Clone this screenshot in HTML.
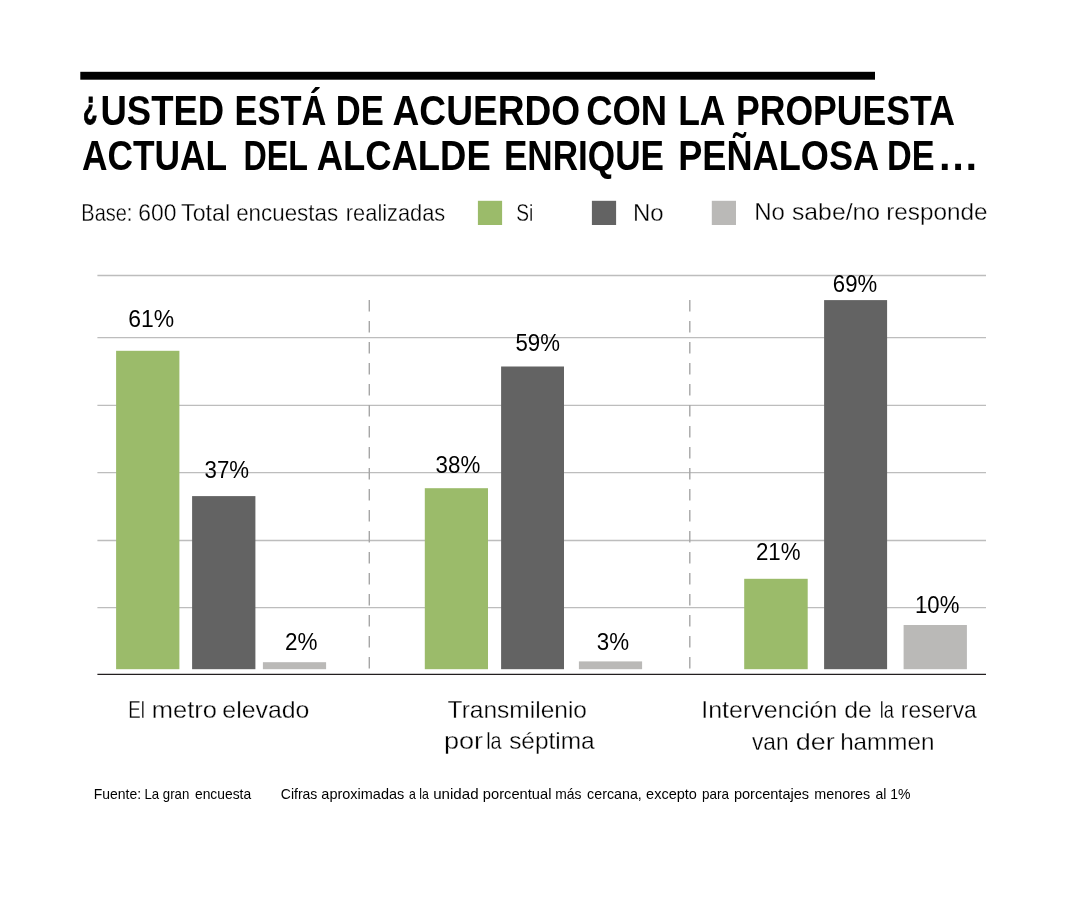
<!DOCTYPE html>
<html lang="es">
<head>
<meta charset="utf-8">
<title>¿Usted está de acuerdo con la propuesta actual del alcalde Enrique Peñalosa de…</title>
<style>
  html, body { margin: 0; padding: 0; background: #ffffff; }
  body { width: 1080px; height: 900px; overflow: hidden; }
  svg { display: block; }
  text { font-family: "Liberation Sans", sans-serif; fill: #000000; }
  .title { font-weight: bold; font-size: 41.7px; }
  .sub { font-size: 24px; stroke: #ffffff; stroke-width: 0.3px; }
  .val { font-size: 24px; }
  .cat { font-size: 24px; stroke: #ffffff; stroke-width: 0.3px; }
  .foot { font-size: 15px; }
  .grid { stroke: #bdbdbd; stroke-width: 1.3; }
  .dash { stroke: #a6a6a6; stroke-width: 1.4; stroke-dasharray: 11.5 9.5; }
  .si { fill: #9bbb6a; }
  .no { fill: #636363; }
  .ns { fill: #bab9b7; }
</style>
</head>
<body>
<svg width="1080" height="900" viewBox="0 0 1080 900">
  <rect x="0" y="0" width="1080" height="900" fill="#ffffff"/>

  <!-- top rule -->
  <rect x="80.3" y="71.8" width="794.7" height="7.9" fill="#000000"/>

  <!-- title -->
  <text class="title" y="124.8"><tspan x="82.94" dy="-7.2" font-size="38.5" stroke="#000000" stroke-width="1.2" textLength="14.44" lengthAdjust="spacingAndGlyphs">¿</tspan><tspan x="100.44" dy="7.2" textLength="123.75" lengthAdjust="spacingAndGlyphs">USTED</tspan> <tspan x="234.54" textLength="91.91" lengthAdjust="spacingAndGlyphs">ESTÁ</tspan> <tspan x="335.71" textLength="48.06" lengthAdjust="spacingAndGlyphs">DE</tspan> <tspan x="392.53" textLength="187.73" lengthAdjust="spacingAndGlyphs">ACUERDO</tspan> <tspan x="586.17" textLength="80.98" lengthAdjust="spacingAndGlyphs">CON</tspan> <tspan x="678.18" textLength="46.01" lengthAdjust="spacingAndGlyphs">LA</tspan> <tspan x="735.94" textLength="218.96" lengthAdjust="spacingAndGlyphs">PROPUESTA</tspan></text>
  <text class="title" y="170"><tspan x="81.89" textLength="144.57" lengthAdjust="spacingAndGlyphs">ACTUAL</tspan> <tspan x="243.44" textLength="63.94" lengthAdjust="spacingAndGlyphs">DEL</tspan> <tspan x="316.65" textLength="174.09" lengthAdjust="spacingAndGlyphs">ALCALDE</tspan> <tspan x="503.88" textLength="160.15" lengthAdjust="spacingAndGlyphs">ENRIQUE</tspan> <tspan x="678.21" textLength="199.61" lengthAdjust="spacingAndGlyphs">PEÑALOSA</tspan> <tspan x="887.05" textLength="47.62" lengthAdjust="spacingAndGlyphs">DE</tspan><tspan x="937.3">…</tspan></text>

  <!-- legend -->
  <text class="sub" y="220.5"><tspan x="81.34" textLength="51.07" lengthAdjust="spacingAndGlyphs">Base:</tspan> <tspan x="138.37" textLength="38.12" lengthAdjust="spacingAndGlyphs">600</tspan> <tspan x="181.06" textLength="49.02" lengthAdjust="spacingAndGlyphs">Total</tspan> <tspan x="236.2" textLength="101.86" lengthAdjust="spacingAndGlyphs">encuestas</tspan> <tspan x="345.87" textLength="99.4" lengthAdjust="spacingAndGlyphs">realizadas</tspan></text>
  <text class="sub" y="220.7"><tspan x="516.25" textLength="17.05" lengthAdjust="spacingAndGlyphs">Si</tspan></text>
  <text class="sub" y="221"><tspan x="632.88" textLength="30.67" lengthAdjust="spacingAndGlyphs">No</tspan></text>
  <text class="sub" y="220.2"><tspan x="754.27" textLength="30.65" lengthAdjust="spacingAndGlyphs">No</tspan> <tspan x="791.98" textLength="88.1" lengthAdjust="spacingAndGlyphs">sabe/no</tspan> <tspan x="886.18" textLength="101.31" lengthAdjust="spacingAndGlyphs">responde</tspan></text>
  <rect class="si" x="477.9" y="200.8" width="24.2" height="24.2"/>
  <rect class="no" x="591.9" y="200.8" width="24.2" height="24.2"/>
  <rect class="ns" x="711.8" y="200.8" width="24.2" height="24.2"/>

  <!-- gridlines -->
  <g class="grid">
    <line x1="97.4" y1="275.5" x2="986" y2="275.5"/>
    <line x1="97.4" y1="337.6" x2="986" y2="337.6"/>
    <line x1="97.4" y1="405.3" x2="986" y2="405.3"/>
    <line x1="97.4" y1="472.6" x2="986" y2="472.6"/>
    <line x1="97.4" y1="540.5" x2="986" y2="540.5"/>
    <line x1="97.4" y1="607.7" x2="986" y2="607.7"/>
  </g>

  <!-- dashed separators -->
  <line class="dash" x1="369.3" y1="300" x2="369.3" y2="669"/>
  <line class="dash" x1="689.8" y1="300" x2="689.8" y2="669"/>

  <!-- bars: El metro elevado -->
  <rect class="si" x="116.1" y="350.8" width="63.3" height="318.4"/>
  <rect class="no" x="192.1" y="496.1" width="63.3" height="173.1"/>
  <rect class="ns" x="262.9" y="662.2" width="63.2" height="7"/>
  <!-- bars: Transmilenio por la séptima -->
  <rect class="si" x="424.8" y="488.2" width="63.2" height="181"/>
  <rect class="no" x="501.1" y="366.5" width="62.9" height="302.7"/>
  <rect class="ns" x="578.9" y="661.4" width="63.2" height="7.8"/>
  <!-- bars: Intervención de la reserva van der hammen -->
  <rect class="si" x="744.2" y="578.8" width="63.5" height="90.4"/>
  <rect class="no" x="824.1" y="300.1" width="63" height="369.1"/>
  <rect class="ns" x="903.6" y="625" width="63.3" height="44.2"/>

  <!-- axis -->
  <line x1="97.4" y1="674.3" x2="986" y2="674.3" stroke="#231f20" stroke-width="1.15"/>

  <!-- values -->
  <text class="val" y="326.8"><tspan x="128.23" textLength="45.89" lengthAdjust="spacingAndGlyphs">61%</tspan></text>
  <text class="val" y="477.9"><tspan x="204.59" textLength="44.54" lengthAdjust="spacingAndGlyphs">37%</tspan></text>
  <text class="val" y="649.7"><tspan x="284.91" textLength="32.44" lengthAdjust="spacingAndGlyphs">2%</tspan></text>
  <text class="val" y="472.8"><tspan x="435.62" textLength="44.66" lengthAdjust="spacingAndGlyphs">38%</tspan></text>
  <text class="val" y="350.9"><tspan x="515.49" textLength="44.44" lengthAdjust="spacingAndGlyphs">59%</tspan></text>
  <text class="val" y="649.7"><tspan x="596.72" textLength="32.29" lengthAdjust="spacingAndGlyphs">3%</tspan></text>
  <text class="val" y="559.8"><tspan x="755.92" textLength="44.57" lengthAdjust="spacingAndGlyphs">21%</tspan></text>
  <text class="val" y="292"><tspan x="832.85" textLength="44.3" lengthAdjust="spacingAndGlyphs">69%</tspan></text>
  <text class="val" y="613"><tspan x="915.06" textLength="44.31" lengthAdjust="spacingAndGlyphs">10%</tspan></text>

  <!-- categories -->
  <text class="cat" y="717.7"><tspan x="128.28" textLength="16.67" lengthAdjust="spacingAndGlyphs">El</tspan> <tspan x="151.78" textLength="65.17" lengthAdjust="spacingAndGlyphs">metro</tspan> <tspan x="222.39" textLength="87.08" lengthAdjust="spacingAndGlyphs">elevado</tspan></text>
  <text class="cat" y="717.6"><tspan x="447.61" textLength="139.35" lengthAdjust="spacingAndGlyphs">Transmilenio</tspan></text>
  <text class="cat" y="749.3"><tspan x="443.96" textLength="39.19" lengthAdjust="spacingAndGlyphs">por</tspan> <tspan x="486.23" textLength="15.42" lengthAdjust="spacingAndGlyphs">la</tspan> <tspan x="509.17" textLength="85.51" lengthAdjust="spacingAndGlyphs">séptima</tspan></text>
  <text class="cat" y="717.7"><tspan x="701.29" textLength="136.01" lengthAdjust="spacingAndGlyphs">Intervención</tspan> <tspan x="844.17" textLength="27.54" lengthAdjust="spacingAndGlyphs">de</tspan> <tspan x="879.71" textLength="14.14" lengthAdjust="spacingAndGlyphs">la</tspan> <tspan x="900.83" textLength="75.89" lengthAdjust="spacingAndGlyphs">reserva</tspan></text>
  <text class="cat" y="749.7"><tspan x="751.96" textLength="36.58" lengthAdjust="spacingAndGlyphs">van</tspan> <tspan x="795.73" textLength="38.98" lengthAdjust="spacingAndGlyphs">der</tspan> <tspan x="840.15" textLength="94.27" lengthAdjust="spacingAndGlyphs">hammen</tspan></text>

  <!-- footer -->
  <text class="foot" y="798.8"><tspan x="93.81" textLength="47.29" lengthAdjust="spacingAndGlyphs">Fuente:</tspan> <tspan x="144.46" textLength="44.81" lengthAdjust="spacingAndGlyphs">La gran</tspan> <tspan x="194.97" textLength="56.19" lengthAdjust="spacingAndGlyphs">encuesta</tspan></text>
  <text class="foot" y="798.8"><tspan x="280.79" textLength="36.56" lengthAdjust="spacingAndGlyphs">Cifras</tspan> <tspan x="321.34" textLength="82.97" lengthAdjust="spacingAndGlyphs">aproximadas</tspan> <tspan x="408.98" textLength="19.82" lengthAdjust="spacingAndGlyphs">a la</tspan> <tspan x="433.22" textLength="45.36" lengthAdjust="spacingAndGlyphs">unidad</tspan> <tspan x="482.87" textLength="68.63" lengthAdjust="spacingAndGlyphs">porcentual</tspan> <tspan x="555.28" textLength="26.24" lengthAdjust="spacingAndGlyphs">más</tspan> <tspan x="587.07" textLength="54.74" lengthAdjust="spacingAndGlyphs">cercana,</tspan> <tspan x="646.09" textLength="50.8" lengthAdjust="spacingAndGlyphs">excepto</tspan> <tspan x="701.93" textLength="26.99" lengthAdjust="spacingAndGlyphs">para</tspan> <tspan x="733.89" textLength="75.23" lengthAdjust="spacingAndGlyphs">porcentajes</tspan> <tspan x="814.31" textLength="55.77" lengthAdjust="spacingAndGlyphs">menores</tspan> <tspan x="875.39" textLength="35.05" lengthAdjust="spacingAndGlyphs">al 1%</tspan></text>
</svg>
</body>
</html>
